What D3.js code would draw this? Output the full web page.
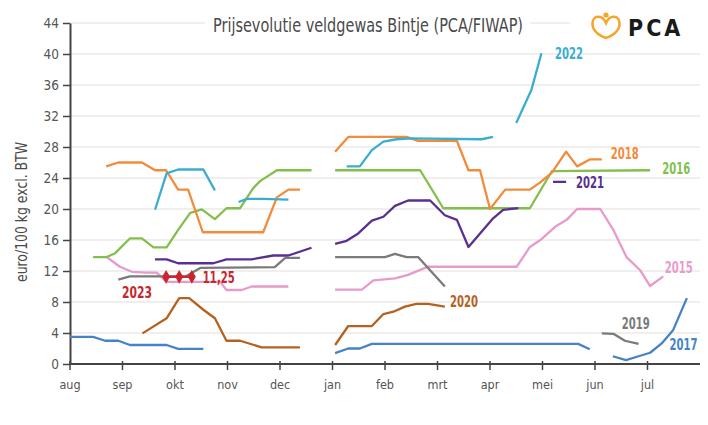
<!DOCTYPE html>
<html>
<head>
<meta charset="utf-8">
<script src="https://cdn.jsdelivr.net/npm/d3@7"></script>
<style>
  body { margin: 0; background: #fff; }
  text { font-family: "DejaVu Sans Condensed", "Liberation Sans", sans-serif; }
</style>
</head>
<body>
<svg id="chart" width="708" height="425"></svg>
<script>
// month index: 0 = aug ... 11 = jul, values in euro/100 kg
const months = ['aug', 'sep', 'okt', 'nov', 'dec', 'jan', 'feb', 'mrt', 'apr', 'mei', 'jun', 'jul'];
const yTicks = [0, 4, 8, 12, 16, 20, 24, 28, 32, 36, 40, 44];

// each season is a list of segments, each segment [month, value] pairs
const s2015 = [
  [[0.70, 13.8], [0.95, 12.55], [1.18, 11.9], [1.46, 11.8], [1.65, 11.8], [1.84, 10.6], [2.86, 10.6], [2.98, 9.55], [3.27, 9.55], [3.46, 10.0], [4.16, 10.0]],
  [[5.05, 9.6], [5.56, 9.6], [5.78, 10.8], [6.19, 11.05], [6.44, 11.5], [6.73, 12.3], [6.82, 12.55], [8.51, 12.55], [8.76, 15.1], [8.98, 16.1], [9.24, 17.7], [9.46, 18.6], [9.66, 20.0], [10.10, 20.0], [10.35, 17.3], [10.60, 13.8], [10.86, 12.1], [11.05, 10.06], [11.30, 11.3]]
];
const s2016 = [
  [[0.44, 13.8], [0.70, 13.8], [0.86, 14.3], [1.14, 16.2], [1.37, 16.2], [1.59, 15.05], [1.84, 15.05], [2.06, 17.3], [2.29, 19.5], [2.51, 19.96], [2.76, 18.7], [2.98, 20.1], [3.24, 20.1], [3.49, 22.7], [3.62, 23.6], [3.94, 25.0], [4.60, 25.0]],
  [[5.05, 25.0], [6.67, 25.0], [7.11, 20.1], [8.76, 20.1], [9.18, 24.9], [11.05, 25.0]]
];
const s2017 = [
  [[0, 3.5], [0.44, 3.5], [0.67, 3.0], [0.92, 3.0], [1.14, 2.45], [1.84, 2.45], [2.06, 1.95], [2.54, 1.95]],
  [[5.05, 1.4], [5.30, 2.0], [5.52, 2.0], [5.75, 2.6], [9.68, 2.6], [9.90, 1.9]],
  [[10.34, 1.0], [10.59, 0.5], [10.83, 1.0], [11.05, 1.45], [11.27, 2.65], [11.49, 4.4], [11.75, 8.5]]
];
const s2018 = [
  [[0.69, 25.5], [0.92, 26.0], [1.37, 26.0], [1.62, 25.0], [1.83, 25.0], [2.06, 22.5], [2.25, 22.5], [2.53, 17.0], [3.68, 17.0], [3.94, 21.5], [4.16, 22.5], [4.38, 22.5]],
  [[5.05, 27.4], [5.30, 29.3], [6.41, 29.3], [6.63, 28.8], [7.37, 28.8], [7.59, 25.0], [7.81, 25.0], [8.00, 20.0], [8.29, 22.5], [8.76, 22.5], [8.95, 23.4], [9.18, 24.7], [9.45, 27.4], [9.66, 25.5], [9.90, 26.4], [10.13, 26.4]]
];
const s2019 = [
  [[0.92, 10.9], [1.14, 11.3], [2.20, 11.3], [2.48, 12.4], [3.90, 12.5], [4.10, 13.7], [4.38, 13.7]],
  [[5.05, 13.8], [6.00, 13.8], [6.19, 14.2], [6.41, 13.8], [6.63, 13.8], [7.14, 10.0]],
  [[10.13, 3.95], [10.35, 3.9], [10.57, 3.0], [10.83, 2.6]]
];
const s2020 = [
  [[1.38, 3.95], [1.84, 5.9], [2.08, 8.5], [2.27, 8.5], [2.54, 7.0], [2.76, 5.9], [2.98, 3.0], [3.24, 3.0], [3.65, 2.15], [4.38, 2.15]],
  [[5.05, 2.45], [5.30, 4.9], [5.75, 4.9], [5.97, 6.45], [6.16, 6.75], [6.38, 7.4], [6.60, 7.75], [6.82, 7.75], [7.14, 7.4]]
];
const s2021 = [
  [[1.62, 13.5], [1.84, 13.5], [2.06, 13.0], [2.73, 13.0], [2.98, 13.5], [3.46, 13.5], [3.87, 14.0], [4.16, 14.0], [4.60, 15.0]],
  [[5.05, 15.5], [5.27, 15.9], [5.49, 16.85], [5.75, 18.5], [5.97, 19.0], [6.19, 20.4], [6.44, 21.1], [6.86, 21.1], [7.14, 19.2], [7.37, 18.6], [7.59, 15.1], [8.06, 18.8], [8.25, 19.9], [8.54, 20.1]],
  [[9.20, 23.5], [9.45, 23.5]]
];
const s2022 = [
  [[1.62, 19.9], [1.84, 24.6], [2.06, 25.1], [2.54, 25.1], [2.76, 22.4]],
  [[3.21, 20.9], [3.37, 21.3], [3.68, 21.3], [4.16, 21.2]],
  [[5.27, 25.5], [5.52, 25.5], [5.75, 27.6], [5.97, 28.7], [6.22, 29.0], [6.48, 29.1], [7.84, 29.0], [8.06, 29.3]],
  [[8.50, 31.1], [8.79, 35.4], [8.98, 40.1]]
];
const s2023 = [
  [[1.83, 11.25], [2.08, 11.25], [2.32, 11.25]]
];

const seasons = ['2015', '2016', '2017', '2018', '2019', '2020', '2021', '2022', '2023'];
const seasonData = [s2015, s2016, s2017, s2018, s2019, s2020, s2021, s2022, s2023];
// where each season's name sits, in chart units
const labelAt = [[11.33, 12.5], [11.28, 25.2], [11.42, 2.6], [10.30, 27.2], [10.51, 5.3], [7.24, 8.1], [9.64, 23.4], [9.24, 40.1], [0.99, 9.3]];

const colors = {
  '2015': '#e69bcb', '2016': '#82bf4c', '2017': '#4783c4', '2018': '#f28b3c',
  '2019': '#7a7a7a', '2020': '#b5621e', '2021': '#59308f', '2022': '#3badcf', '2023': '#c8252d'
};

const svg = d3.select('#chart');
const x = d3.scaleLinear().domain([0, 12]).range([70, 700]);
const y = d3.scaleLinear().domain([0, 44]).range([364, 23]);

// squeeze a label horizontally to a given width (condensed look)
function squeeze(sel, width) {
  sel.each(function() {
    const w = this.getComputedTextLength();
    const px = +this.getAttribute('data-x'), py = +this.getAttribute('data-y');
    this.setAttribute('transform', `translate(${px},${py}) scale(${width / w},1)`);
  });
}

function label(px, py, txt, color, width) {
  svg.append('text')
    .attr('data-x', px).attr('data-y', py)
    .attr('dy', '0.36em')
    .attr('font-size', 16)
    .attr('font-weight', 'bold')
    .attr('fill', color)
    .text(txt)
    .call(squeeze, width);
}

// grid
svg.append('g')
  .selectAll('line')
  .data(yTicks.slice(1))
  .enter()
  .append('line')
  .attr('x1', x(0)).attr('x2', 700)
  .attr('y1', d => y(d)).attr('y2', d => y(d))
  .attr('stroke', '#e4e0dc')
  .attr('stroke-width', 1.2);

// white box behind title and logo
svg.append('rect').attr('x', 205).attr('y', 8).attr('width', 325).attr('height', 32).attr('fill', '#fff');
svg.append('rect').attr('x', 570).attr('y', 6).attr('width', 135).attr('height', 38).attr('fill', '#fff');

svg.append('text')
  .attr('x', 213).attr('y', 32)
  .attr('font-size', 19)
  .attr('fill', '#4a4a4a')
  .attr('textLength', 310)
  .attr('lengthAdjust', 'spacingAndGlyphs')
  .text('Prijsevolutie veldgewas Bintje (PCA/FIWAP)');

// logo
const logo = svg.append('g');
logo.append('path')
  .attr('d', 'M606,23 C602,14 592,15 592.5,24.5 C593,32 601,36.5 606,38 C611,36.5 619,32 619.5,24.5 C620,15 610,14 606,23 Z')
  .attr('fill', 'none')
  .attr('stroke', '#f5a52a')
  .attr('stroke-width', 2.6);
logo.append('circle').attr('cx', 606).attr('cy', 15).attr('r', 2.6).attr('fill', '#f5a52a');
logo.append('text')
  .attr('x', 628).attr('y', 36)
  .attr('font-family', '"Open Sans", sans-serif')
  .attr('font-weight', 600)
  .attr('font-size', 23)
  .attr('letter-spacing', 3)
  .attr('fill', '#1a1a1a')
  .text('PCA');

// axes
const yAxis = svg.append('g').attr('transform', `translate(${x(0)},0)`)
  .call(d3.axisLeft(y).tickValues(yTicks).tickSize(7).tickSizeOuter(0).tickPadding(4));
yAxis.select('.domain').attr('stroke', '#444').attr('stroke-width', 2);
yAxis.selectAll('.tick line').attr('stroke', '#444').attr('stroke-width', 1.5);
yAxis.selectAll('.tick text').attr('font-size', 13.5).attr('fill', '#555')
  .attr('font-family', '"DejaVu Sans Condensed", sans-serif');

svg.append('line')
  .attr('x1', x(0) - 1).attr('x2', 700)
  .attr('y1', y(0)).attr('y2', y(0))
  .attr('stroke', '#444').attr('stroke-width', 2);

const xAxis = svg.append('g')
  .selectAll('g')
  .data(months)
  .enter()
  .append('g')
  .attr('transform', (d, i) => `translate(${x(i)},${y(0)})`);
xAxis.append('line').attr('y1', -3).attr('y2', 6).attr('stroke', '#444').attr('stroke-width', 1.5);
xAxis.append('text')
  .attr('y', 25)
  .attr('text-anchor', 'middle')
  .attr('font-size', 12.5)
  .attr('fill', '#555')
  .text(d => d);

svg.append('text')
  .attr('transform', 'translate(27,282) rotate(-90)')
  .attr('font-size', 15)
  .attr('fill', '#4a4a4a')
  .attr('textLength', 140)
  .attr('lengthAdjust', 'spacingAndGlyphs')
  .text('euro/100 kg excl. BTW');

// lines
const line = d3.line().x(d => x(d[0])).y(d => y(d[1]));

seasons.forEach((season, i) => {
  svg.append('g')
    .selectAll('path')
    .data(seasonData[i])
    .enter()
    .append('path')
    .attr('d', line)
    .attr('fill', 'none')
    .attr('stroke', colors[season])
    .attr('stroke-width', 2.3)
    .attr('stroke-linejoin', 'round');

  label(x(labelAt[i][0]), y(labelAt[i][1]), season, colors[season], season === '2023' ? 30 : 28);
});

// 2023 markers
svg.append('g')
  .selectAll('path')
  .data(s2023[0])
  .enter()
  .append('path')
  .attr('d', d3.symbol(d3.symbolDiamond, 55))
  .attr('transform', d => `translate(${x(d[0])},${y(d[1])})`)
  .attr('fill', colors['2023']);

label(x(2.53), y(s2023[0][2][1]), '11,25', colors['2023'], 32);
</script>
</body>
</html>
